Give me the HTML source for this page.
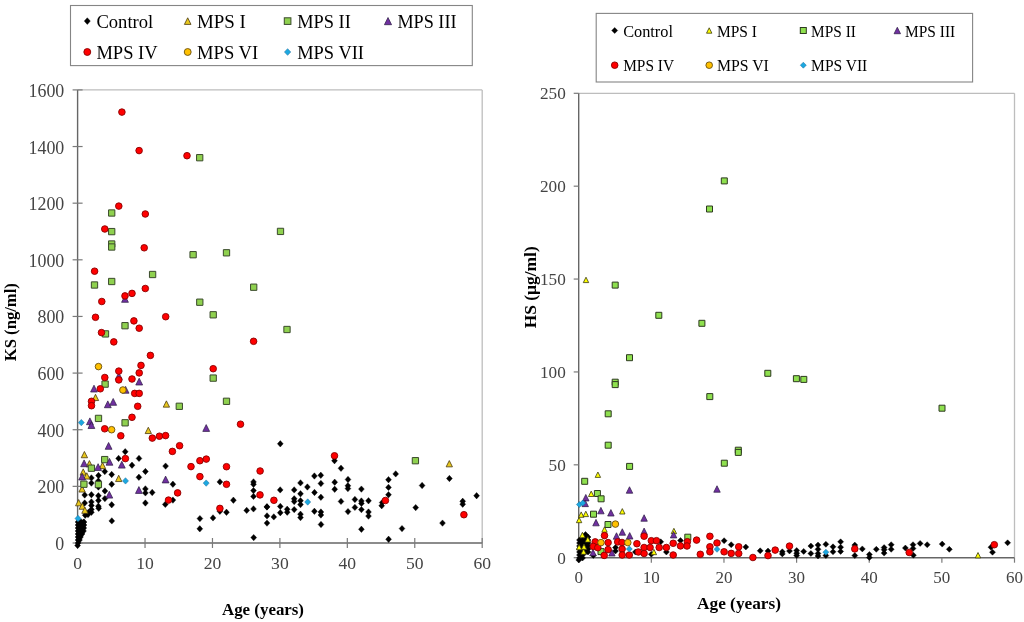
<!DOCTYPE html>
<html><head><meta charset="utf-8"><title>KS and HS levels by age</title>
<style>html,body{margin:0;padding:0;background:#fff;width:1024px;height:622px;overflow:hidden}</style>
</head><body>
<svg width="1024" height="622" viewBox="0 0 1024 622" style="display:block" font-family='"Liberation Serif", "Times New Roman", serif'>
<rect width="1024" height="622" fill="#fff"/>
<line x1="77.6" y1="89.9" x2="482.2" y2="89.9" stroke="#bdbdbd" stroke-width="1.3"/>
<line x1="482.2" y1="89.9" x2="482.2" y2="543" stroke="#bdbdbd" stroke-width="1.3"/>
<line x1="77.6" y1="89.9" x2="77.6" y2="543" stroke="#666" stroke-width="1.4"/>
<line x1="77.6" y1="543" x2="482.2" y2="543" stroke="#666" stroke-width="1.4"/>
<line x1="72.6" y1="543" x2="82.6" y2="543" stroke="#7a7a7a" stroke-width="1.2"/>
<text x="64.3" y="550" font-size="17.9" text-anchor="end" fill="#444">0</text>
<line x1="72.6" y1="486.36" x2="82.6" y2="486.36" stroke="#7a7a7a" stroke-width="1.2"/>
<text x="64.3" y="493.36" font-size="17.9" text-anchor="end" fill="#444">200</text>
<line x1="72.6" y1="429.73" x2="82.6" y2="429.73" stroke="#7a7a7a" stroke-width="1.2"/>
<text x="64.3" y="436.73" font-size="17.9" text-anchor="end" fill="#444">400</text>
<line x1="72.6" y1="373.09" x2="82.6" y2="373.09" stroke="#7a7a7a" stroke-width="1.2"/>
<text x="64.3" y="380.09" font-size="17.9" text-anchor="end" fill="#444">600</text>
<line x1="72.6" y1="316.45" x2="82.6" y2="316.45" stroke="#7a7a7a" stroke-width="1.2"/>
<text x="64.3" y="323.45" font-size="17.9" text-anchor="end" fill="#444">800</text>
<line x1="72.6" y1="259.81" x2="82.6" y2="259.81" stroke="#7a7a7a" stroke-width="1.2"/>
<text x="64.3" y="266.81" font-size="17.9" text-anchor="end" fill="#444">1000</text>
<line x1="72.6" y1="203.17" x2="82.6" y2="203.17" stroke="#7a7a7a" stroke-width="1.2"/>
<text x="64.3" y="210.17" font-size="17.9" text-anchor="end" fill="#444">1200</text>
<line x1="72.6" y1="146.54" x2="82.6" y2="146.54" stroke="#7a7a7a" stroke-width="1.2"/>
<text x="64.3" y="153.54" font-size="17.9" text-anchor="end" fill="#444">1400</text>
<line x1="72.6" y1="89.9" x2="82.6" y2="89.9" stroke="#7a7a7a" stroke-width="1.2"/>
<text x="64.3" y="96.9" font-size="17.9" text-anchor="end" fill="#444">1600</text>
<line x1="77.6" y1="538" x2="77.6" y2="548" stroke="#7a7a7a" stroke-width="1.2"/>
<text x="77.6" y="569.4" font-size="17.6" text-anchor="middle" fill="#444">0</text>
<line x1="145.03" y1="538" x2="145.03" y2="548" stroke="#7a7a7a" stroke-width="1.2"/>
<text x="145.03" y="569.4" font-size="17.6" text-anchor="middle" fill="#444">10</text>
<line x1="212.47" y1="538" x2="212.47" y2="548" stroke="#7a7a7a" stroke-width="1.2"/>
<text x="212.47" y="569.4" font-size="17.6" text-anchor="middle" fill="#444">20</text>
<line x1="279.9" y1="538" x2="279.9" y2="548" stroke="#7a7a7a" stroke-width="1.2"/>
<text x="279.9" y="569.4" font-size="17.6" text-anchor="middle" fill="#444">30</text>
<line x1="347.33" y1="538" x2="347.33" y2="548" stroke="#7a7a7a" stroke-width="1.2"/>
<text x="347.33" y="569.4" font-size="17.6" text-anchor="middle" fill="#444">40</text>
<line x1="414.77" y1="538" x2="414.77" y2="548" stroke="#7a7a7a" stroke-width="1.2"/>
<text x="414.77" y="569.4" font-size="17.6" text-anchor="middle" fill="#444">50</text>
<line x1="482.2" y1="538" x2="482.2" y2="548" stroke="#7a7a7a" stroke-width="1.2"/>
<text x="482.2" y="569.4" font-size="17.6" text-anchor="middle" fill="#444">60</text>
<g fill="#000" stroke="#000" stroke-width="0.4" stroke-linejoin="round"><path d="M280.3 440.6L283.2 443.8L280.3 447L277.4 443.8Z"/><path d="M334.5 457.5L337.4 460.7L334.5 463.9L331.6 460.7Z"/><path d="M341 465.1L343.9 468.3L341 471.5L338.1 468.3Z"/><path d="M314.4 472.8L317.3 476L314.4 479.2L311.5 476Z"/><path d="M320.8 472.1L323.7 475.3L320.8 478.5L317.9 475.3Z"/><path d="M348 476.3L350.9 479.5L348 482.7L345.1 479.5Z"/><path d="M334.7 479L337.6 482.2L334.7 485.4L331.8 482.2Z"/><path d="M320.9 480.3L323.8 483.5L320.9 486.7L318 483.5Z"/><path d="M300.5 479.7L303.4 482.9L300.5 486.1L297.6 482.9Z"/><path d="M395.7 470.7L398.6 473.9L395.7 477.1L392.8 473.9Z"/><path d="M388.5 476.5L391.4 479.7L388.5 482.9L385.6 479.7Z"/><path d="M449.4 475.3L452.3 478.5L449.4 481.7L446.5 478.5Z"/><path d="M422.1 482.3L425 485.5L422.1 488.7L419.2 485.5Z"/><path d="M125.2 448.5L128.1 451.7L125.2 454.9L122.3 451.7Z"/><path d="M118.6 455.2L121.5 458.4L118.6 461.6L115.7 458.4Z"/><path d="M139 455.2L141.9 458.4L139 461.6L136.1 458.4Z"/><path d="M132 462L134.9 465.2L132 468.4L129.1 465.2Z"/><path d="M104.8 468.3L107.7 471.5L104.8 474.7L101.9 471.5Z"/><path d="M145.4 468.3L148.3 471.5L145.4 474.7L142.5 471.5Z"/><path d="M111.7 471.3L114.6 474.5L111.7 477.7L108.8 474.5Z"/><path d="M98.5 472.3L101.4 475.5L98.5 478.7L95.6 475.5Z"/><path d="M91.4 474.7L94.3 477.9L91.4 481.1L88.5 477.9Z"/><path d="M91.4 479.9L94.3 483.1L91.4 486.3L88.5 483.1Z"/><path d="M98.4 477.8L101.3 481L98.4 484.2L95.5 481Z"/><path d="M98.4 483.8L101.3 487L98.4 490.2L95.5 487Z"/><path d="M111.7 481L114.6 484.2L111.7 487.4L108.8 484.2Z"/><path d="M104.9 487.8L107.8 491L104.9 494.2L102 491Z"/><path d="M84.7 491.8L87.6 495L84.7 498.2L81.8 495Z"/><path d="M91.4 491.5L94.3 494.7L91.4 497.9L88.5 494.7Z"/><path d="M98.4 492.6L101.3 495.8L98.4 499L95.5 495.8Z"/><path d="M104.9 495.4L107.8 498.6L104.9 501.8L102 498.6Z"/><path d="M98.4 497.3L101.3 500.5L98.4 503.7L95.5 500.5Z"/><path d="M91.4 498.7L94.3 501.9L91.4 505.1L88.5 501.9Z"/><path d="M84.7 499.8L87.6 503L84.7 506.2L81.8 503Z"/><path d="M111.7 501.6L114.6 504.8L111.7 508L108.8 504.8Z"/><path d="M91.4 502.3L94.3 505.5L91.4 508.7L88.5 505.5Z"/><path d="M98.4 503L101.3 506.2L98.4 509.4L95.5 506.2Z"/><path d="M91.4 506.2L94.3 509.4L91.4 512.6L88.5 509.4Z"/><path d="M91.4 509.1L94.3 512.3L91.4 515.5L88.5 512.3Z"/><path d="M88.3 509.3L91.2 512.5L88.3 515.7L85.4 512.5Z"/><path d="M85.2 512L88.1 515.2L85.2 518.4L82.3 515.2Z"/><path d="M88 511.3L90.9 514.5L88 517.7L85.1 514.5Z"/><path d="M98.7 505.1L101.6 508.3L98.7 511.5L95.8 508.3Z"/><path d="M111.8 517.7L114.7 520.9L111.8 524.1L108.9 520.9Z"/><path d="M165.6 462.9L168.5 466.1L165.6 469.3L162.7 466.1Z"/><path d="M138.9 474.1L141.8 477.3L138.9 480.5L136 477.3Z"/><path d="M172.9 481L175.8 484.2L172.9 487.4L170 484.2Z"/><path d="M145.4 485.7L148.3 488.9L145.4 492.1L142.5 488.9Z"/><path d="M145.4 489.7L148.3 492.9L145.4 496.1L142.5 492.9Z"/><path d="M152.2 489.3L155.1 492.5L152.2 495.7L149.3 492.5Z"/><path d="M172.9 496.9L175.8 500.1L172.9 503.3L170 500.1Z"/><path d="M165.3 501.2L168.2 504.4L165.3 507.6L162.4 504.4Z"/><path d="M145.4 499.8L148.3 503L145.4 506.2L142.5 503Z"/><path d="M219.9 478.7L222.8 481.9L219.9 485.1L217 481.9Z"/><path d="M253.5 478.7L256.4 481.9L253.5 485.1L250.6 481.9Z"/><path d="M253.5 481.1L256.4 484.3L253.5 487.5L250.6 484.3Z"/><path d="M253.5 487.4L256.4 490.6L253.5 493.8L250.6 490.6Z"/><path d="M253.5 493.2L256.4 496.4L253.5 499.6L250.6 496.4Z"/><path d="M233.4 497L236.3 500.2L233.4 503.4L230.5 500.2Z"/><path d="M219.9 508.1L222.8 511.3L219.9 514.5L217 511.3Z"/><path d="M226.5 509.1L229.4 512.3L226.5 515.5L223.6 512.3Z"/><path d="M246.7 507.2L249.6 510.4L246.7 513.6L243.8 510.4Z"/><path d="M253.5 505.7L256.4 508.9L253.5 512.1L250.6 508.9Z"/><path d="M199.9 515.4L202.8 518.6L199.9 521.8L197 518.6Z"/><path d="M213 514.7L215.9 517.9L213 521.1L210.1 517.9Z"/><path d="M199.8 525.6L202.7 528.8L199.8 532L196.9 528.8Z"/><path d="M267 503.6L269.9 506.8L267 510L264.1 506.8Z"/><path d="M267 512.7L269.9 515.9L267 519.1L264.1 515.9Z"/><path d="M273.8 513.7L276.7 516.9L273.8 520.1L270.9 516.9Z"/><path d="M267 519.9L269.9 523.1L267 526.3L264.1 523.1Z"/><path d="M253.7 534.4L256.6 537.6L253.7 540.8L250.8 537.6Z"/><path d="M280.3 503.2L283.2 506.4L280.3 509.6L277.4 506.4Z"/><path d="M280.3 509.5L283.2 512.7L280.3 515.9L277.4 512.7Z"/><path d="M287.2 506.1L290.1 509.3L287.2 512.5L284.3 509.3Z"/><path d="M287.2 509L290.1 512.2L287.2 515.4L284.3 512.2Z"/><path d="M307.4 483.8L310.3 487L307.4 490.2L304.5 487Z"/><path d="M280.2 486.7L283.1 489.9L280.2 493.1L277.3 489.9Z"/><path d="M294.2 486.7L297.1 489.9L294.2 493.1L291.3 489.9Z"/><path d="M334.7 486.1L337.6 489.3L334.7 492.5L331.8 489.3Z"/><path d="M300.5 490.6L303.4 493.8L300.5 497L297.6 493.8Z"/><path d="M314.5 489.3L317.4 492.5L314.5 495.7L311.6 492.5Z"/><path d="M320.9 494.1L323.8 497.3L320.9 500.5L318 497.3Z"/><path d="M294.2 495.6L297.1 498.8L294.2 502L291.3 498.8Z"/><path d="M294.2 498.3L297.1 501.5L294.2 504.7L291.3 501.5Z"/><path d="M300.5 497.5L303.4 500.7L300.5 503.9L297.6 500.7Z"/><path d="M300.5 501.4L303.4 504.6L300.5 507.8L297.6 504.6Z"/><path d="M266.9 503.8L269.8 507L266.9 510.2L264 507Z"/><path d="M294.2 506.4L297.1 509.6L294.2 512.8L291.3 509.6Z"/><path d="M300.5 511L303.4 514.2L300.5 517.4L297.6 514.2Z"/><path d="M300.5 514.4L303.4 517.6L300.5 520.8L297.6 517.6Z"/><path d="M314.4 508.1L317.3 511.3L314.4 514.5L311.5 511.3Z"/><path d="M320.9 508.8L323.8 512L320.9 515.2L318 512Z"/><path d="M320.9 511.8L323.8 515L320.9 518.2L318 515Z"/><path d="M321 521.3L323.9 524.5L321 527.7L318.1 524.5Z"/><path d="M341 498.2L343.9 501.4L341 504.6L338.1 501.4Z"/><path d="M348 508.4L350.9 511.6L348 514.8L345.1 511.6Z"/><path d="M354.9 496.3L357.8 499.5L354.9 502.7L352 499.5Z"/><path d="M354.9 504.2L357.8 507.4L354.9 510.6L352 507.4Z"/><path d="M361.4 497.8L364.3 501L361.4 504.2L358.5 501Z"/><path d="M361.4 500.2L364.3 503.4L361.4 506.6L358.5 503.4Z"/><path d="M361.4 506.4L364.3 509.6L361.4 512.8L358.5 509.6Z"/><path d="M368.5 497.6L371.4 500.8L368.5 504L365.6 500.8Z"/><path d="M368.5 508.8L371.4 512L368.5 515.2L365.6 512Z"/><path d="M368.5 512.9L371.4 516.1L368.5 519.3L365.6 516.1Z"/><path d="M361.4 526.1L364.3 529.3L361.4 532.5L358.5 529.3Z"/><path d="M381.7 502.5L384.6 505.7L381.7 508.9L378.8 505.7Z"/><path d="M382.2 499.4L385.1 502.6L382.2 505.8L379.3 502.6Z"/><path d="M347.9 482.6L350.8 485.8L347.9 489L345 485.8Z"/><path d="M347.9 485.4L350.8 488.6L347.9 491.8L345 488.6Z"/><path d="M361.4 485.9L364.3 489.1L361.4 492.3L358.5 489.1Z"/><path d="M388.5 484.2L391.4 487.4L388.5 490.6L385.6 487.4Z"/><path d="M388.5 491.5L391.4 494.7L388.5 497.9L385.6 494.7Z"/><path d="M415.7 504.4L418.6 507.6L415.7 510.8L412.8 507.6Z"/><path d="M402 525.4L404.9 528.6L402 531.8L399.1 528.6Z"/><path d="M388.6 536.1L391.5 539.3L388.6 542.5L385.7 539.3Z"/><path d="M442.5 519.9L445.4 523.1L442.5 526.3L439.6 523.1Z"/><path d="M462.7 498.1L465.6 501.3L462.7 504.5L459.8 501.3Z"/><path d="M462.7 501L465.6 504.2L462.7 507.4L459.8 504.2Z"/><path d="M476.6 492.5L479.5 495.7L476.6 498.9L473.7 495.7Z"/><path d="M78 518.8L80.9 522L78 525.2L75.1 522Z"/><path d="M81 518.8L83.9 522L81 525.2L78.1 522Z"/><path d="M84 518.8L86.9 522L84 525.2L81.1 522Z"/><path d="M78 521.8L80.9 525L78 528.2L75.1 525Z"/><path d="M81 521.8L83.9 525L81 528.2L78.1 525Z"/><path d="M84 521.8L86.9 525L84 528.2L81.1 525Z"/><path d="M78 524.8L80.9 528L78 531.2L75.1 528Z"/><path d="M81 524.8L83.9 528L81 531.2L78.1 528Z"/><path d="M83.8 524.8L86.7 528L83.8 531.2L80.9 528Z"/><path d="M78 527.8L80.9 531L78 534.2L75.1 531Z"/><path d="M81 527.8L83.9 531L81 534.2L78.1 531Z"/><path d="M83.5 527.8L86.4 531L83.5 534.2L80.6 531Z"/><path d="M78 530.8L80.9 534L78 537.2L75.1 534Z"/><path d="M81 530.8L83.9 534L81 537.2L78.1 534Z"/><path d="M82 530.8L84.9 534L82 537.2L79.1 534Z"/><path d="M78 533.8L80.9 537L78 540.2L75.1 537Z"/><path d="M80.5 533.8L83.4 537L80.5 540.2L77.6 537Z"/><path d="M78 536.8L80.9 540L78 543.2L75.1 540Z"/><path d="M79.5 536.8L82.4 540L79.5 543.2L76.6 540Z"/><path d="M78 539.8L80.9 543L78 546.2L75.1 543Z"/><path d="M77.6 542.3L80.5 545.5L77.6 548.7L74.7 545.5Z"/><path d="M83.2 519.3L86.1 522.5L83.2 525.7L80.3 522.5Z"/></g>
<g fill="#e9c81e" stroke="#4a3a10" stroke-width="0.8" stroke-linejoin="round"><path d="M95.5 394.25L98.65 400.55L92.35 400.55Z"/><path d="M166.4 400.85L169.55 407.15L163.25 407.15Z"/><path d="M148.3 427.25L151.45 433.55L145.15 433.55Z"/><path d="M84.4 451.45L87.55 457.75L81.25 457.75Z"/><path d="M89.4 460.55L92.55 466.85L86.25 466.85Z"/><path d="M83.2 468.85L86.35 475.15L80.05 475.15Z"/><path d="M86.8 472.75L89.95 479.05L83.65 479.05Z"/><path d="M118.7 475.25L121.85 481.55L115.55 481.55Z"/><path d="M82.1 485.75L85.25 492.05L78.95 492.05Z"/><path d="M78.7 499.55L81.85 505.85L75.55 505.85Z"/><path d="M82.3 502.95L85.45 509.25L79.15 509.25Z"/><path d="M84.9 507.05L88.05 513.35L81.75 513.35Z"/><path d="M102.5 462.35L105.65 468.65L99.35 468.65Z"/><path d="M449.3 460.55L452.45 466.85L446.15 466.85Z"/></g>
<g fill="#8fd14f" stroke="#3a4a2c" stroke-width="1.0" stroke-linejoin="round"><rect x="196.55" y="154.55" width="6.3" height="6.3"/><rect x="108.55" y="209.85" width="6.3" height="6.3"/><rect x="108.55" y="228.45" width="6.3" height="6.3"/><rect x="108.55" y="240.85" width="6.3" height="6.3"/><rect x="108.55" y="243.85" width="6.3" height="6.3"/><rect x="189.95" y="251.55" width="6.3" height="6.3"/><rect x="149.45" y="271.35" width="6.3" height="6.3"/><rect x="108.55" y="278.35" width="6.3" height="6.3"/><rect x="91.35" y="281.85" width="6.3" height="6.3"/><rect x="277.35" y="228.25" width="6.3" height="6.3"/><rect x="223.35" y="249.65" width="6.3" height="6.3"/><rect x="250.55" y="284.05" width="6.3" height="6.3"/><rect x="121.85" y="322.55" width="6.3" height="6.3"/><rect x="102.35" y="330.75" width="6.3" height="6.3"/><rect x="196.65" y="299.05" width="6.3" height="6.3"/><rect x="210.05" y="311.65" width="6.3" height="6.3"/><rect x="283.85" y="326.35" width="6.3" height="6.3"/><rect x="101.95" y="380.95" width="6.3" height="6.3"/><rect x="176.15" y="403.15" width="6.3" height="6.3"/><rect x="95.35" y="415.25" width="6.3" height="6.3"/><rect x="121.95" y="419.65" width="6.3" height="6.3"/><rect x="210.05" y="374.95" width="6.3" height="6.3"/><rect x="223.35" y="398.15" width="6.3" height="6.3"/><rect x="101.55" y="456.45" width="6.3" height="6.3"/><rect x="88.25" y="465.05" width="6.3" height="6.3"/><rect x="80.75" y="481.05" width="6.3" height="6.3"/><rect x="95.25" y="481.35" width="6.3" height="6.3"/><rect x="412.25" y="457.55" width="6.3" height="6.3"/></g>
<g fill="#7030a0" stroke="#2a1a40" stroke-width="0.7" stroke-linejoin="round"><path d="M125 295.48L128.42 302.32L121.58 302.32Z"/><path d="M118.8 372.58L122.22 379.42L115.38 379.42Z"/><path d="M139.2 378.18L142.62 385.02L135.78 385.02Z"/><path d="M94 385.18L97.42 392.02L90.58 392.02Z"/><path d="M125.6 386.38L129.02 393.22L122.18 393.22Z"/><path d="M107.8 400.88L111.22 407.72L104.38 407.72Z"/><path d="M113.2 398.48L116.62 405.32L109.78 405.32Z"/><path d="M89.9 417.88L93.32 424.72L86.48 424.72Z"/><path d="M91.4 421.68L94.82 428.52L87.98 428.52Z"/><path d="M206.2 424.58L209.62 431.42L202.78 431.42Z"/><path d="M108.6 442.48L112.02 449.32L105.18 449.32Z"/><path d="M109.5 458.38L112.92 465.22L106.08 465.22Z"/><path d="M84.1 459.88L87.52 466.72L80.68 466.72Z"/><path d="M121.8 461.28L125.22 468.12L118.38 468.12Z"/><path d="M98.1 463.68L101.52 470.52L94.68 470.52Z"/><path d="M82.1 473.18L85.52 480.02L78.68 480.02Z"/><path d="M109.3 491.28L112.72 498.12L105.88 498.12Z"/><path d="M165.6 476.08L169.02 482.92L162.18 482.92Z"/><path d="M138.9 486.58L142.32 493.42L135.48 493.42Z"/></g>
<g fill="#ff0000" stroke="#8a0000" stroke-width="0.9" stroke-linejoin="round"><circle cx="121.9" cy="112.1" r="3.3"/><circle cx="139.1" cy="150.6" r="3.3"/><circle cx="187" cy="155.7" r="3.3"/><circle cx="118.8" cy="206.1" r="3.3"/><circle cx="145.3" cy="214" r="3.3"/><circle cx="104.8" cy="229" r="3.3"/><circle cx="144.2" cy="247.8" r="3.3"/><circle cx="94.6" cy="271.2" r="3.3"/><circle cx="145.3" cy="288.5" r="3.3"/><circle cx="132" cy="293.4" r="3.3"/><circle cx="125" cy="295.9" r="3.3"/><circle cx="101.8" cy="301.5" r="3.3"/><circle cx="95.5" cy="317.3" r="3.3"/><circle cx="165.7" cy="316.7" r="3.3"/><circle cx="133.9" cy="320.9" r="3.3"/><circle cx="139.2" cy="328.2" r="3.3"/><circle cx="101.5" cy="332.6" r="3.3"/><circle cx="113.8" cy="341.9" r="3.3"/><circle cx="150.4" cy="355.4" r="3.3"/><circle cx="253.6" cy="341.3" r="3.3"/><circle cx="141" cy="365.4" r="3.3"/><circle cx="118.8" cy="371.1" r="3.3"/><circle cx="139.2" cy="372.9" r="3.3"/><circle cx="104.8" cy="377.5" r="3.3"/><circle cx="118.8" cy="379.9" r="3.3"/><circle cx="132" cy="379" r="3.3"/><circle cx="100.3" cy="388.8" r="3.3"/><circle cx="134.7" cy="393.4" r="3.3"/><circle cx="139.2" cy="393.4" r="3.3"/><circle cx="91.5" cy="401.3" r="3.3"/><circle cx="91.5" cy="405.7" r="3.3"/><circle cx="137.7" cy="406.3" r="3.3"/><circle cx="132" cy="417.3" r="3.3"/><circle cx="213.2" cy="368.7" r="3.3"/><circle cx="240.5" cy="424.2" r="3.3"/><circle cx="104.7" cy="428.8" r="3.3"/><circle cx="120.8" cy="435.8" r="3.3"/><circle cx="152.3" cy="438.1" r="3.3"/><circle cx="159.4" cy="436.2" r="3.3"/><circle cx="165.6" cy="435.6" r="3.3"/><circle cx="179.6" cy="445.7" r="3.3"/><circle cx="172.4" cy="451.4" r="3.3"/><circle cx="125.4" cy="458.6" r="3.3"/><circle cx="191" cy="466.6" r="3.3"/><circle cx="199.9" cy="460.7" r="3.3"/><circle cx="206.3" cy="459.1" r="3.3"/><circle cx="226.5" cy="466.7" r="3.3"/><circle cx="260.1" cy="471" r="3.3"/><circle cx="334.5" cy="455.8" r="3.3"/><circle cx="177.6" cy="492.9" r="3.3"/><circle cx="168.5" cy="500.1" r="3.3"/><circle cx="199.9" cy="476.6" r="3.3"/><circle cx="226.5" cy="484.3" r="3.3"/><circle cx="260" cy="494.9" r="3.3"/><circle cx="219.9" cy="508.4" r="3.3"/><circle cx="273.9" cy="500.3" r="3.3"/><circle cx="385.4" cy="500.5" r="3.3"/><circle cx="463.9" cy="514.7" r="3.3"/></g>
<g fill="#ffc000" stroke="#6a5010" stroke-width="0.9" stroke-linejoin="round"><circle cx="98.5" cy="366.6" r="3.3"/><circle cx="122.9" cy="390" r="3.3"/><circle cx="111.6" cy="429.7" r="3.3"/></g>
<g fill="#1ca8e0" stroke="#1a6a9a" stroke-width="0.5" stroke-linejoin="round"><path d="M81.3 419.4L84.3 422.6L81.3 425.8L78.3 422.6Z"/><path d="M125.5 477.7L128.5 480.9L125.5 484.1L122.5 480.9Z"/><path d="M206.2 479.9L209.2 483.1L206.2 486.3L203.2 483.1Z"/><path d="M307.7 498.8L310.7 502L307.7 505.2L304.7 502Z"/><path d="M78 515.3L81 518.5L78 521.7L75 518.5Z"/></g>
<text x="263" y="614.9" font-size="17" font-weight="bold" text-anchor="middle" textLength="82" lengthAdjust="spacingAndGlyphs">Age (years)</text>
<text transform="translate(16.4 322.2) rotate(-90)" font-size="16" font-weight="bold" text-anchor="middle" textLength="78" lengthAdjust="spacingAndGlyphs">KS (ng/ml)</text>
<rect x="70.5" y="5.5" width="401.8" height="60.1" fill="#fff" stroke="#858585" stroke-width="1.1"/>
<g fill="#000" stroke="#000" stroke-width="0.4"><path d="M87.3 17.74L90.34 21.1L87.3 24.46L84.25 21.1Z"/></g>
<text x="96.4" y="27.9" font-size="19" textLength="56.9" lengthAdjust="spacingAndGlyphs">Control</text>
<g fill="#e9c81e" stroke="#4a3a10" stroke-width="0.8"><path d="M187.7 17.79L191.01 24.41L184.39 24.41Z"/></g>
<text x="197" y="27.9" font-size="19" textLength="48.9" lengthAdjust="spacingAndGlyphs">MPS I</text>
<g fill="#8fd14f" stroke="#3a4a2c" stroke-width="1.0"><rect x="284.29" y="17.79" width="6.62" height="6.62"/></g>
<text x="297.2" y="27.9" font-size="19" textLength="53.6" lengthAdjust="spacingAndGlyphs">MPS II</text>
<g fill="#7030a0" stroke="#2a1a40" stroke-width="0.7"><path d="M388 17.51L391.59 24.69L384.41 24.69Z"/></g>
<text x="397.4" y="27.9" font-size="19" textLength="59.1" lengthAdjust="spacingAndGlyphs">MPS III</text>
<g fill="#ff0000" stroke="#8a0000" stroke-width="0.9"><circle cx="87.3" cy="52" r="3.46"/></g>
<text x="96.4" y="58.8" font-size="19" textLength="61.2" lengthAdjust="spacingAndGlyphs">MPS IV</text>
<g fill="#ffc000" stroke="#6a5010" stroke-width="0.9"><circle cx="187.7" cy="52" r="3.46"/></g>
<text x="197" y="58.8" font-size="19" textLength="61.2" lengthAdjust="spacingAndGlyphs">MPS VI</text>
<g fill="#1ca8e0" stroke="#1a6a9a" stroke-width="0.5"><path d="M287.6 48.64L290.75 52L287.6 55.36L284.45 52Z"/></g>
<text x="297.2" y="58.8" font-size="19" textLength="66.8" lengthAdjust="spacingAndGlyphs">MPS VII</text>
<line x1="578.7" y1="93.3" x2="1014.5" y2="93.3" stroke="#bdbdbd" stroke-width="1.3"/>
<line x1="1014.5" y1="93.3" x2="1014.5" y2="557.7" stroke="#bdbdbd" stroke-width="1.3"/>
<line x1="578.7" y1="93.3" x2="578.7" y2="557.7" stroke="#666" stroke-width="1.4"/>
<line x1="578.7" y1="557.7" x2="1014.5" y2="557.7" stroke="#666" stroke-width="1.4"/>
<line x1="573.7" y1="557.7" x2="578.7" y2="557.7" stroke="#7a7a7a" stroke-width="1.2"/>
<text x="565.8" y="563.5" font-size="17.2" text-anchor="end" fill="#444">0</text>
<line x1="573.7" y1="464.82" x2="578.7" y2="464.82" stroke="#7a7a7a" stroke-width="1.2"/>
<text x="565.8" y="470.62" font-size="17.2" text-anchor="end" fill="#444">50</text>
<line x1="573.7" y1="371.94" x2="578.7" y2="371.94" stroke="#7a7a7a" stroke-width="1.2"/>
<text x="565.8" y="377.74" font-size="17.2" text-anchor="end" fill="#444">100</text>
<line x1="573.7" y1="279.06" x2="578.7" y2="279.06" stroke="#7a7a7a" stroke-width="1.2"/>
<text x="565.8" y="284.86" font-size="17.2" text-anchor="end" fill="#444">150</text>
<line x1="573.7" y1="186.18" x2="578.7" y2="186.18" stroke="#7a7a7a" stroke-width="1.2"/>
<text x="565.8" y="191.98" font-size="17.2" text-anchor="end" fill="#444">200</text>
<line x1="573.7" y1="93.3" x2="578.7" y2="93.3" stroke="#7a7a7a" stroke-width="1.2"/>
<text x="565.8" y="99.1" font-size="17.2" text-anchor="end" fill="#444">250</text>
<line x1="578.7" y1="557.7" x2="578.7" y2="562.7" stroke="#7a7a7a" stroke-width="1.2"/>
<text x="578.7" y="583.2" font-size="17" text-anchor="middle" fill="#444">0</text>
<line x1="651.33" y1="557.7" x2="651.33" y2="562.7" stroke="#7a7a7a" stroke-width="1.2"/>
<text x="651.33" y="583.2" font-size="17" text-anchor="middle" fill="#444">10</text>
<line x1="723.97" y1="557.7" x2="723.97" y2="562.7" stroke="#7a7a7a" stroke-width="1.2"/>
<text x="723.97" y="583.2" font-size="17" text-anchor="middle" fill="#444">20</text>
<line x1="796.6" y1="557.7" x2="796.6" y2="562.7" stroke="#7a7a7a" stroke-width="1.2"/>
<text x="796.6" y="583.2" font-size="17" text-anchor="middle" fill="#444">30</text>
<line x1="869.23" y1="557.7" x2="869.23" y2="562.7" stroke="#7a7a7a" stroke-width="1.2"/>
<text x="869.23" y="583.2" font-size="17" text-anchor="middle" fill="#444">40</text>
<line x1="941.87" y1="557.7" x2="941.87" y2="562.7" stroke="#7a7a7a" stroke-width="1.2"/>
<text x="941.87" y="583.2" font-size="17" text-anchor="middle" fill="#444">50</text>
<line x1="1014.5" y1="557.7" x2="1014.5" y2="562.7" stroke="#7a7a7a" stroke-width="1.2"/>
<text x="1014.5" y="583.2" font-size="17" text-anchor="middle" fill="#444">60</text>
<g fill="#000" stroke="#000" stroke-width="0.4" stroke-linejoin="round"><path d="M593.3 552.4L596.3 555.4L593.3 558.4L590.3 555.4Z"/><path d="M615.5 544.6L618.5 547.6L615.5 550.6L612.5 547.6Z"/><path d="M615.5 548L618.5 551L615.5 554L612.5 551Z"/><path d="M660.7 538.8L663.7 541.8L660.7 544.8L657.7 541.8Z"/><path d="M651.3 551.3L654.3 554.3L651.3 557.3L648.3 554.3Z"/><path d="M635.4 549L638.4 552L635.4 555L632.4 552Z"/><path d="M666.4 549L669.4 552L666.4 555L663.4 552Z"/><path d="M680.5 537.5L683.5 540.5L680.5 543.5L677.5 540.5Z"/><path d="M724.1 537.7L727.1 540.7L724.1 543.7L721.1 540.7Z"/><path d="M731.2 541.7L734.2 544.7L731.2 547.7L728.2 544.7Z"/><path d="M745.8 544L748.8 547L745.8 550L742.8 547Z"/><path d="M760.2 547.8L763.2 550.8L760.2 553.8L757.2 550.8Z"/><path d="M768 548L771 551L768 554L765 551Z"/><path d="M782.3 548.8L785.3 551.8L782.3 554.8L779.3 551.8Z"/><path d="M782.3 550.9L785.3 553.9L782.3 556.9L779.3 553.9Z"/><path d="M789.5 548L792.5 551L789.5 554L786.5 551Z"/><path d="M796.7 547.5L799.7 550.5L796.7 553.5L793.7 550.5Z"/><path d="M796.7 550.2L799.7 553.2L796.7 556.2L793.7 553.2Z"/><path d="M796.7 552.6L799.7 555.6L796.7 558.6L793.7 555.6Z"/><path d="M803.7 548.4L806.7 551.4L803.7 554.4L800.7 551.4Z"/><path d="M810.9 543L813.9 546L810.9 549L807.9 546Z"/><path d="M810.9 550.5L813.9 553.5L810.9 556.5L807.9 553.5Z"/><path d="M818 542.1L821 545.1L818 548.1L815 545.1Z"/><path d="M818 546.3L821 549.3L818 552.3L815 549.3Z"/><path d="M818 550.5L821 553.5L818 556.5L815 553.5Z"/><path d="M818 553L821 556L818 559L815 556Z"/><path d="M825.9 541.3L828.9 544.3L825.9 547.3L822.9 544.3Z"/><path d="M825.9 552.6L828.9 555.6L825.9 558.6L822.9 555.6Z"/><path d="M833 543.8L836 546.8L833 549.8L830 546.8Z"/><path d="M833 548.8L836 551.8L833 554.8L830 551.8Z"/><path d="M840.6 538.8L843.6 541.8L840.6 544.8L837.6 541.8Z"/><path d="M840.6 544.2L843.6 547.2L840.6 550.2L837.6 547.2Z"/><path d="M840.6 548.4L843.6 551.4L840.6 554.4L837.6 551.4Z"/><path d="M854.8 542.1L857.8 545.1L854.8 548.1L851.8 545.1Z"/><path d="M854.8 552.6L857.8 555.6L854.8 558.6L851.8 555.6Z"/><path d="M862.3 545.9L865.3 548.9L862.3 551.9L859.3 548.9Z"/><path d="M869.4 551.5L872.4 554.5L869.4 557.5L866.4 554.5Z"/><path d="M869.4 554.5L872.4 557.5L869.4 560.5L866.4 557.5Z"/><path d="M876.3 546.3L879.3 549.3L876.3 552.3L873.3 549.3Z"/><path d="M884.1 544.6L887.1 547.6L884.1 550.6L881.1 547.6Z"/><path d="M884.1 546.7L887.1 549.7L884.1 552.7L881.1 549.7Z"/><path d="M884.1 550.1L887.1 553.1L884.1 556.1L881.1 553.1Z"/><path d="M891.2 541.7L894.2 544.7L891.2 547.7L888.2 544.7Z"/><path d="M891.2 546.3L894.2 549.3L891.2 552.3L888.2 549.3Z"/><path d="M905.4 545L908.4 548L905.4 551L902.4 548Z"/><path d="M913 541.7L916 544.7L913 547.7L910 544.7Z"/><path d="M913 545.5L916 548.5L913 551.5L910 548.5Z"/><path d="M913.4 552.2L916.4 555.2L913.4 558.2L910.4 555.2Z"/><path d="M920.1 540.4L923.1 543.4L920.1 546.4L917.1 543.4Z"/><path d="M927.2 541.7L930.2 544.7L927.2 547.7L924.2 544.7Z"/><path d="M942.2 541.1L945.2 544.1L942.2 547.1L939.2 544.1Z"/><path d="M949.3 546.3L952.3 549.3L949.3 552.3L946.3 549.3Z"/><path d="M991 544.2L994 547.2L991 550.2L988 547.2Z"/><path d="M992.5 549.2L995.5 552.2L992.5 555.2L989.5 552.2Z"/><path d="M1007.6 539.8L1010.6 542.8L1007.6 545.8L1004.6 542.8Z"/><path d="M585.5 531.5L588.5 534.5L585.5 537.5L582.5 534.5Z"/><path d="M585.5 534L588.5 537L585.5 540L582.5 537Z"/><path d="M588 534L591 537L588 540L585 537Z"/><path d="M579.5 537L582.5 540L579.5 543L576.5 540Z"/><path d="M582.5 537L585.5 540L582.5 543L579.5 540Z"/><path d="M585.5 537L588.5 540L585.5 543L582.5 540Z"/><path d="M588 537L591 540L588 543L585 540Z"/><path d="M579.5 540L582.5 543L579.5 546L576.5 543Z"/><path d="M582.5 540L585.5 543L582.5 546L579.5 543Z"/><path d="M585.5 540L588.5 543L585.5 546L582.5 543Z"/><path d="M588 540L591 543L588 546L585 543Z"/><path d="M579.5 543L582.5 546L579.5 549L576.5 546Z"/><path d="M582.5 543L585.5 546L582.5 549L579.5 546Z"/><path d="M585.5 543L588.5 546L585.5 549L582.5 546Z"/><path d="M588 543L591 546L588 549L585 546Z"/><path d="M579.5 546L582.5 549L579.5 552L576.5 549Z"/><path d="M582.5 546L585.5 549L582.5 552L579.5 549Z"/><path d="M585.5 546L588.5 549L585.5 552L582.5 549Z"/><path d="M588 546L591 549L588 552L585 549Z"/><path d="M579.5 549L582.5 552L579.5 555L576.5 552Z"/><path d="M582.5 549L585.5 552L582.5 555L579.5 552Z"/><path d="M585.5 549L588.5 552L585.5 555L582.5 552Z"/><path d="M588 549L591 552L588 555L585 552Z"/><path d="M579.5 552L582.5 555L579.5 558L576.5 555Z"/><path d="M582.5 552L585.5 555L582.5 558L579.5 555Z"/><path d="M579.5 555L582.5 558L579.5 561L576.5 558Z"/><path d="M582.5 555L585.5 558L582.5 561L579.5 558Z"/><path d="M578.8 557L581.8 560L578.8 563L575.8 560Z"/></g>
<g fill="#ffff00" stroke="#3a3a10" stroke-width="0.8" stroke-linejoin="round"><path d="M586 277.2L588.7 282.6L583.3 282.6Z"/><path d="M597.9 472L600.6 477.4L595.2 477.4Z"/><path d="M591.2 491.1L593.9 496.5L588.5 496.5Z"/><path d="M581.2 511.9L583.9 517.3L578.5 517.3Z"/><path d="M585.8 511.2L588.5 516.6L583.1 516.6Z"/><path d="M622.3 508.6L625 514L619.6 514Z"/><path d="M579.1 517.3L581.8 522.7L576.4 522.7Z"/><path d="M604.5 526.8L607.2 532.2L601.8 532.2Z"/><path d="M582.4 532.3L585.1 537.7L579.7 537.7Z"/><path d="M587.8 536.7L590.5 542.1L585.1 542.1Z"/><path d="M579.1 544.4L581.8 549.8L576.4 549.8Z"/><path d="M584 544L586.7 549.4L581.3 549.4Z"/><path d="M583.6 548.9L586.3 554.3L580.9 554.3Z"/><path d="M653.9 549.3L656.6 554.7L651.2 554.7Z"/><path d="M673.9 528.3L676.6 533.7L671.2 533.7Z"/><path d="M978 552.5L980.7 557.9L975.3 557.9Z"/></g>
<g fill="#8ee04e" stroke="#2e3a20" stroke-width="1.0" stroke-linejoin="round"><rect x="721.3" y="177.9" width="6" height="6"/><rect x="706.5" y="206" width="6" height="6"/><rect x="612.2" y="282.1" width="6" height="6"/><rect x="655.8" y="312.3" width="6" height="6"/><rect x="698.9" y="320.3" width="6" height="6"/><rect x="626.5" y="354.7" width="6" height="6"/><rect x="612.2" y="379.2" width="6" height="6"/><rect x="612.2" y="381.6" width="6" height="6"/><rect x="706.8" y="393.6" width="6" height="6"/><rect x="605.2" y="410.8" width="6" height="6"/><rect x="605.2" y="442.2" width="6" height="6"/><rect x="764.8" y="370.3" width="6" height="6"/><rect x="793.4" y="375.7" width="6" height="6"/><rect x="800.8" y="376.4" width="6" height="6"/><rect x="939" y="405.2" width="6" height="6"/><rect x="735.3" y="447.2" width="6" height="6"/><rect x="735.3" y="449.4" width="6" height="6"/><rect x="626.6" y="463.4" width="6" height="6"/><rect x="721.3" y="460.2" width="6" height="6"/><rect x="581.7" y="478.3" width="6" height="6"/><rect x="594.4" y="490.5" width="6" height="6"/><rect x="598.1" y="495.8" width="6" height="6"/><rect x="590.5" y="511.2" width="6" height="6"/><rect x="605" y="521.5" width="6" height="6"/><rect x="598" y="548.6" width="6" height="6"/><rect x="684.8" y="534.2" width="6" height="6"/></g>
<g fill="#7030a0" stroke="#2a1a40" stroke-width="0.7" stroke-linejoin="round"><path d="M629.5 486.76L632.74 493.24L626.26 493.24Z"/><path d="M717 485.76L720.24 492.24L713.76 492.24Z"/><path d="M585.8 494.46L589.04 500.94L582.56 500.94Z"/><path d="M585.2 500.16L588.44 506.64L581.96 506.64Z"/><path d="M600.9 507.36L604.14 513.84L597.66 513.84Z"/><path d="M610.9 509.56L614.14 516.04L607.66 516.04Z"/><path d="M596 519.36L599.24 525.84L592.76 525.84Z"/><path d="M622.3 528.76L625.54 535.24L619.06 535.24Z"/><path d="M616.5 532.76L619.74 539.24L613.26 539.24Z"/><path d="M593 549.26L596.24 555.74L589.76 555.74Z"/><path d="M611.9 549.56L615.14 556.04L608.66 556.04Z"/><path d="M644.1 514.76L647.34 521.24L640.86 521.24Z"/><path d="M629.7 532.56L632.94 539.04L626.46 539.04Z"/><path d="M644.1 528.06L647.34 534.54L640.86 534.54Z"/><path d="M673.6 531.46L676.84 537.94L670.36 537.94Z"/></g>
<g fill="#ff0000" stroke="#8a0000" stroke-width="0.9" stroke-linejoin="round"><circle cx="604.5" cy="535.6" r="3.3"/><circle cx="595.2" cy="541.9" r="3.3"/><circle cx="608.1" cy="542.6" r="3.3"/><circle cx="617.7" cy="541.9" r="3.3"/><circle cx="622" cy="542.5" r="3.3"/><circle cx="593.3" cy="546.4" r="3.3"/><circle cx="597.8" cy="547.7" r="3.3"/><circle cx="608.1" cy="549.6" r="3.3"/><circle cx="622.1" cy="549" r="3.3"/><circle cx="604.2" cy="555.4" r="3.3"/><circle cx="622.2" cy="555" r="3.3"/><circle cx="644.1" cy="536.2" r="3.3"/><circle cx="636.9" cy="543.7" r="3.3"/><circle cx="638.4" cy="552" r="3.3"/><circle cx="644.1" cy="547.5" r="3.3"/><circle cx="644.1" cy="553.5" r="3.3"/><circle cx="650.1" cy="547.5" r="3.3"/><circle cx="651.3" cy="540.7" r="3.3"/><circle cx="656.5" cy="540.7" r="3.3"/><circle cx="659.2" cy="547.5" r="3.3"/><circle cx="666.4" cy="547.5" r="3.3"/><circle cx="673.2" cy="543.3" r="3.3"/><circle cx="673.2" cy="555" r="3.3"/><circle cx="629.3" cy="555" r="3.3"/><circle cx="687.4" cy="541.7" r="3.3"/><circle cx="687" cy="546" r="3.3"/><circle cx="680.5" cy="545.9" r="3.3"/><circle cx="696.6" cy="540.1" r="3.3"/><circle cx="709.9" cy="536.3" r="3.3"/><circle cx="709.9" cy="546.8" r="3.3"/><circle cx="709.9" cy="551.8" r="3.3"/><circle cx="717" cy="543" r="3.3"/><circle cx="724.1" cy="551.8" r="3.3"/><circle cx="731.2" cy="553.4" r="3.3"/><circle cx="700.3" cy="554.3" r="3.3"/><circle cx="738.7" cy="546.8" r="3.3"/><circle cx="738.7" cy="553.5" r="3.3"/><circle cx="752.9" cy="557.5" r="3.3"/><circle cx="768" cy="555.6" r="3.3"/><circle cx="775.2" cy="550.1" r="3.3"/><circle cx="789.5" cy="546.1" r="3.3"/><circle cx="854.8" cy="548.9" r="3.3"/><circle cx="909.2" cy="552.5" r="3.3"/><circle cx="994.3" cy="544.7" r="3.3"/></g>
<g fill="#ffc000" stroke="#6a5010" stroke-width="0.9" stroke-linejoin="round"><circle cx="615.4" cy="524.1" r="3.3"/><circle cx="601" cy="542.6" r="3.3"/><circle cx="627.8" cy="542.6" r="3.3"/></g>
<g fill="#1ca8e0" stroke="#1a6a9a" stroke-width="0.5" stroke-linejoin="round"><path d="M579.4 501.5L582.4 504.5L579.4 507.5L576.4 504.5Z"/><path d="M582.7 500L585.7 503L582.7 506L579.7 503Z"/><path d="M629.3 546L632.3 549L629.3 552L626.3 549Z"/><path d="M717 546.3L720 549.3L717 552.3L714 549.3Z"/><path d="M825.9 549.2L828.9 552.2L825.9 555.2L822.9 552.2Z"/></g>
<text x="739" y="609.2" font-size="17" font-weight="bold" text-anchor="middle" textLength="84" lengthAdjust="spacingAndGlyphs">Age (years)</text>
<text transform="translate(536.4 287.3) rotate(-90)" font-size="16" font-weight="bold" text-anchor="middle" textLength="82" lengthAdjust="spacingAndGlyphs">HS (µg/ml)</text>
<rect x="596.2" y="13.4" width="376.4" height="68.6" fill="#fff" stroke="#858585" stroke-width="1.1"/>
<g fill="#000" stroke="#000" stroke-width="0.4"><path d="M614.7 27.5L617.7 30.5L614.7 33.5L611.7 30.5Z"/></g>
<text x="623.2" y="36.8" font-size="16.3" textLength="49.8" lengthAdjust="spacingAndGlyphs">Control</text>
<g fill="#ffff00" stroke="#3a3a10" stroke-width="0.8"><path d="M709.2 27.8L711.9 33.2L706.5 33.2Z"/></g>
<text x="717" y="36.8" font-size="16.3" textLength="40" lengthAdjust="spacingAndGlyphs">MPS I</text>
<g fill="#8ee04e" stroke="#2e3a20" stroke-width="1.0"><rect x="800.3" y="27.5" width="6" height="6"/></g>
<text x="811.1" y="36.8" font-size="16.3" textLength="44.8" lengthAdjust="spacingAndGlyphs">MPS II</text>
<g fill="#7030a0" stroke="#2a1a40" stroke-width="0.7"><path d="M897.3 27.26L900.54 33.74L894.06 33.74Z"/></g>
<text x="905.1" y="36.8" font-size="16.3" textLength="50.1" lengthAdjust="spacingAndGlyphs">MPS III</text>
<g fill="#ff0000" stroke="#8a0000" stroke-width="0.9"><circle cx="614.7" cy="65.2" r="3.3"/></g>
<text x="623.2" y="70.8" font-size="16.3" textLength="50.8" lengthAdjust="spacingAndGlyphs">MPS IV</text>
<g fill="#ffc000" stroke="#6a5010" stroke-width="0.9"><circle cx="709.2" cy="65.2" r="3.3"/></g>
<text x="717" y="70.8" font-size="16.3" textLength="51.8" lengthAdjust="spacingAndGlyphs">MPS VI</text>
<g fill="#1ca8e0" stroke="#1a6a9a" stroke-width="0.5"><path d="M803.3 62.2L806.3 65.2L803.3 68.2L800.3 65.2Z"/></g>
<text x="811.1" y="70.8" font-size="16.3" textLength="56.2" lengthAdjust="spacingAndGlyphs">MPS VII</text>
</svg>
</body></html>
